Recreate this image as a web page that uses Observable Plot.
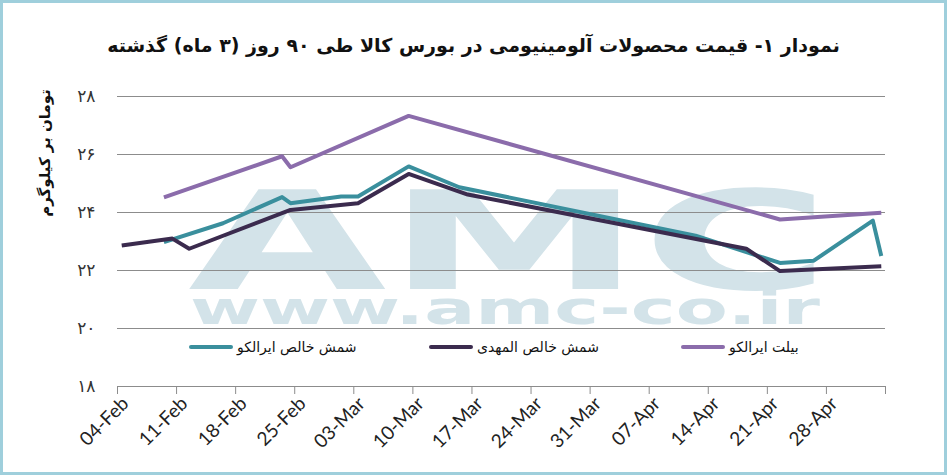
<!DOCTYPE html>
<html>
<head>
<meta charset="utf-8">
<script src="https://cdn.jsdelivr.net/npm/d3@7"></script>
<script src="https://cdn.jsdelivr.net/npm/@observablehq/plot@0.6"></script>
<style>
  body { margin: 0; background: #fff; }
  #wrap { position: relative; width: 947px; height: 475px; overflow: hidden; background: #fff; }
  #wm { position: absolute; left: 0; top: 0; }
  #title { position: absolute; left: 0; top: 30px; width: 947px; text-align: center; direction: rtl;
           font-family: "DejaVu Sans", sans-serif; font-weight: bold; font-size: 19px; color: #111; line-height: 30px; }
  #chart { position: absolute; left: 0; top: 70px; }
  #chart svg { background: transparent; }
  #ylabel { position: absolute; left: 45px; top: 153px; transform: translate(-50%, -50%) rotate(-90deg);
            direction: rtl; white-space: nowrap; font-family: "DejaVu Sans", sans-serif; font-weight: bold;
            font-size: 15px; color: #111; }
  .leg { position: absolute; top: 337px; display: flex; align-items: center; direction: ltr; height: 20px; }
  .leg .sw { width: 44px; height: 4px; border-radius: 2px; margin-right: 4px; }
  .leg .tx { direction: rtl; font-family: "DejaVu Sans", sans-serif; font-size: 14px; color: #111; white-space: nowrap; }
  #frame { position: absolute; left: 0; top: 0; width: 947px; height: 475px; box-sizing: border-box;
           border: 3px solid #9fcfdc; pointer-events: none; }
</style>
</head>
<body>
<div id="wrap">
  <svg id="wm" width="947" height="475">
    <text x="188" y="289" font-family="DejaVu Sans" font-weight="bold" font-size="137" fill="#d3e3e9"
          textLength="642" lengthAdjust="spacingAndGlyphs">AMC</text>
    <text x="190" y="324" font-family="DejaVu Sans" font-weight="bold" font-size="46" fill="#d3e3e9"
          textLength="630" lengthAdjust="spacingAndGlyphs">www.amc-co.ir</text>
  </svg>
  <div id="title">نمودار ۱- قیمت محصولات آلومینیومی در بورس کالا طی ۹۰ روز (۳ ماه) گذشته</div>
  <div id="chart"></div>
  <div id="ylabel">تومان بر کیلوگرم</div>
  <div id="legend"></div>
  <div id="frame"></div>
</div>
<script>
// ---- data ----
const seriesNames = ["شمش خالص ایرالکو", "شمش خالص المهدی", "بیلت ایرالکو"];
const seriesColors = ["#3a8f9d", "#3b2b4e", "#8b6cab"];

const tealDates  = ["2024-02-09","2024-02-16","2024-02-23","2024-02-24","2024-03-01","2024-03-03","2024-03-09","2024-03-15","2024-04-12","2024-04-22","2024-04-26","2024-05-03","2024-05-04"];
const tealValues = [22.98, 23.63, 24.53, 24.32, 24.55, 24.55, 25.59, 24.87, 23.20, 22.26, 22.34, 23.72, 22.50];

const darkDates  = ["2024-02-04","2024-02-10","2024-02-12","2024-02-24","2024-03-03","2024-03-09","2024-03-16","2024-04-18","2024-04-22","2024-05-04"];
const darkValues = [22.86, 23.10, 22.75, 24.09, 24.32, 25.33, 24.62, 22.75, 21.98, 22.15];

const purpleDates  = ["2024-02-09","2024-02-23","2024-02-24","2024-03-09","2024-04-22","2024-05-04"];
const purpleValues = [24.52, 25.94, 25.56, 27.33, 23.76, 23.99];

const xTicks = ["2024-02-04","2024-02-11","2024-02-18","2024-02-25","2024-03-03","2024-03-10","2024-03-17","2024-03-24","2024-03-31","2024-04-07","2024-04-14","2024-04-21","2024-04-28","2024-05-05"];
const xTickLabels = ["04-Feb","11-Feb","18-Feb","25-Feb","03-Mar","10-Mar","17-Mar","24-Mar","31-Mar","07-Apr","14-Apr","21-Apr","28-Apr",""];

const yTicks = [18, 20, 22, 24, 26, 28];
const yTickLabels = ["۱۸", "۲۰", "۲۲", "۲۴", "۲۶", "۲۸"];

// ---- build table ----
const parse = d3.utcParse("%Y-%m-%d");
const noon = s => d3.utcHour.offset(parse(s), 12);
const rows = [];
[[tealDates, tealValues], [darkDates, darkValues], [purpleDates, purpleValues]].forEach(([ds, vs], i) => {
  ds.forEach((d, j) => rows.push({series: seriesNames[i], date: noon(d), value: vs[j]}));
});
const tickDates = xTicks.map(parse);
const xLabel = new Map(tickDates.map((d, i) => [+d, xTickLabels[i]]));
const yLabel = new Map(yTicks.map((v, i) => [v, yTickLabels[i]]));

const chart = Plot.plot({
  width: 947,
  height: 405,
  marginTop: 26,
  marginBottom: 89,
  marginLeft: 117,
  marginRight: 62,
  x: {type: "utc", domain: [tickDates[0], tickDates[tickDates.length - 1]]},
  y: {domain: [18, 28]},
  color: {domain: seriesNames, range: seriesColors},
  marks: [
    Plot.gridY(yTicks, {stroke: "#8c8c8c", strokeOpacity: 1, strokeWidth: 1}),
    Plot.axisY(yTicks, {tickSize: 0, tickPadding: 22, tickFormat: d => yLabel.get(d), fontSize: 17,
                        fontFamily: "DejaVu Sans", fill: "#333", label: null}),
    Plot.axisX(tickDates, {tickSize: 8, stroke: "#8c8c8c", tickFormat: () => "", label: null}),
    Plot.axisX(tickDates, {tickSize: 0, tickPadding: 14, dx: 8, tickRotate: -45, tickFormat: d => xLabel.get(+d),
                           fontSize: 19, fontFamily: "Lato", fill: "#222", label: null}),
    Plot.line(rows, {x: "date", y: "value", z: "series", stroke: "series", strokeWidth: 4,
                     strokeLinecap: "butt", strokeLinejoin: "round"})
  ]
});
document.getElementById("chart").appendChild(chart);

// ---- legend ----
const legendLeft = [189, 429, 681];
const legend = document.getElementById("legend");
seriesNames.forEach((name, i) => {
  const item = document.createElement("div");
  item.className = "leg";
  item.style.left = legendLeft[i] + "px";
  item.innerHTML = `<div class="sw" style="background:${seriesColors[i]}"></div><div class="tx">${name}</div>`;
  legend.appendChild(item);
});
</script>
</body>
</html>
